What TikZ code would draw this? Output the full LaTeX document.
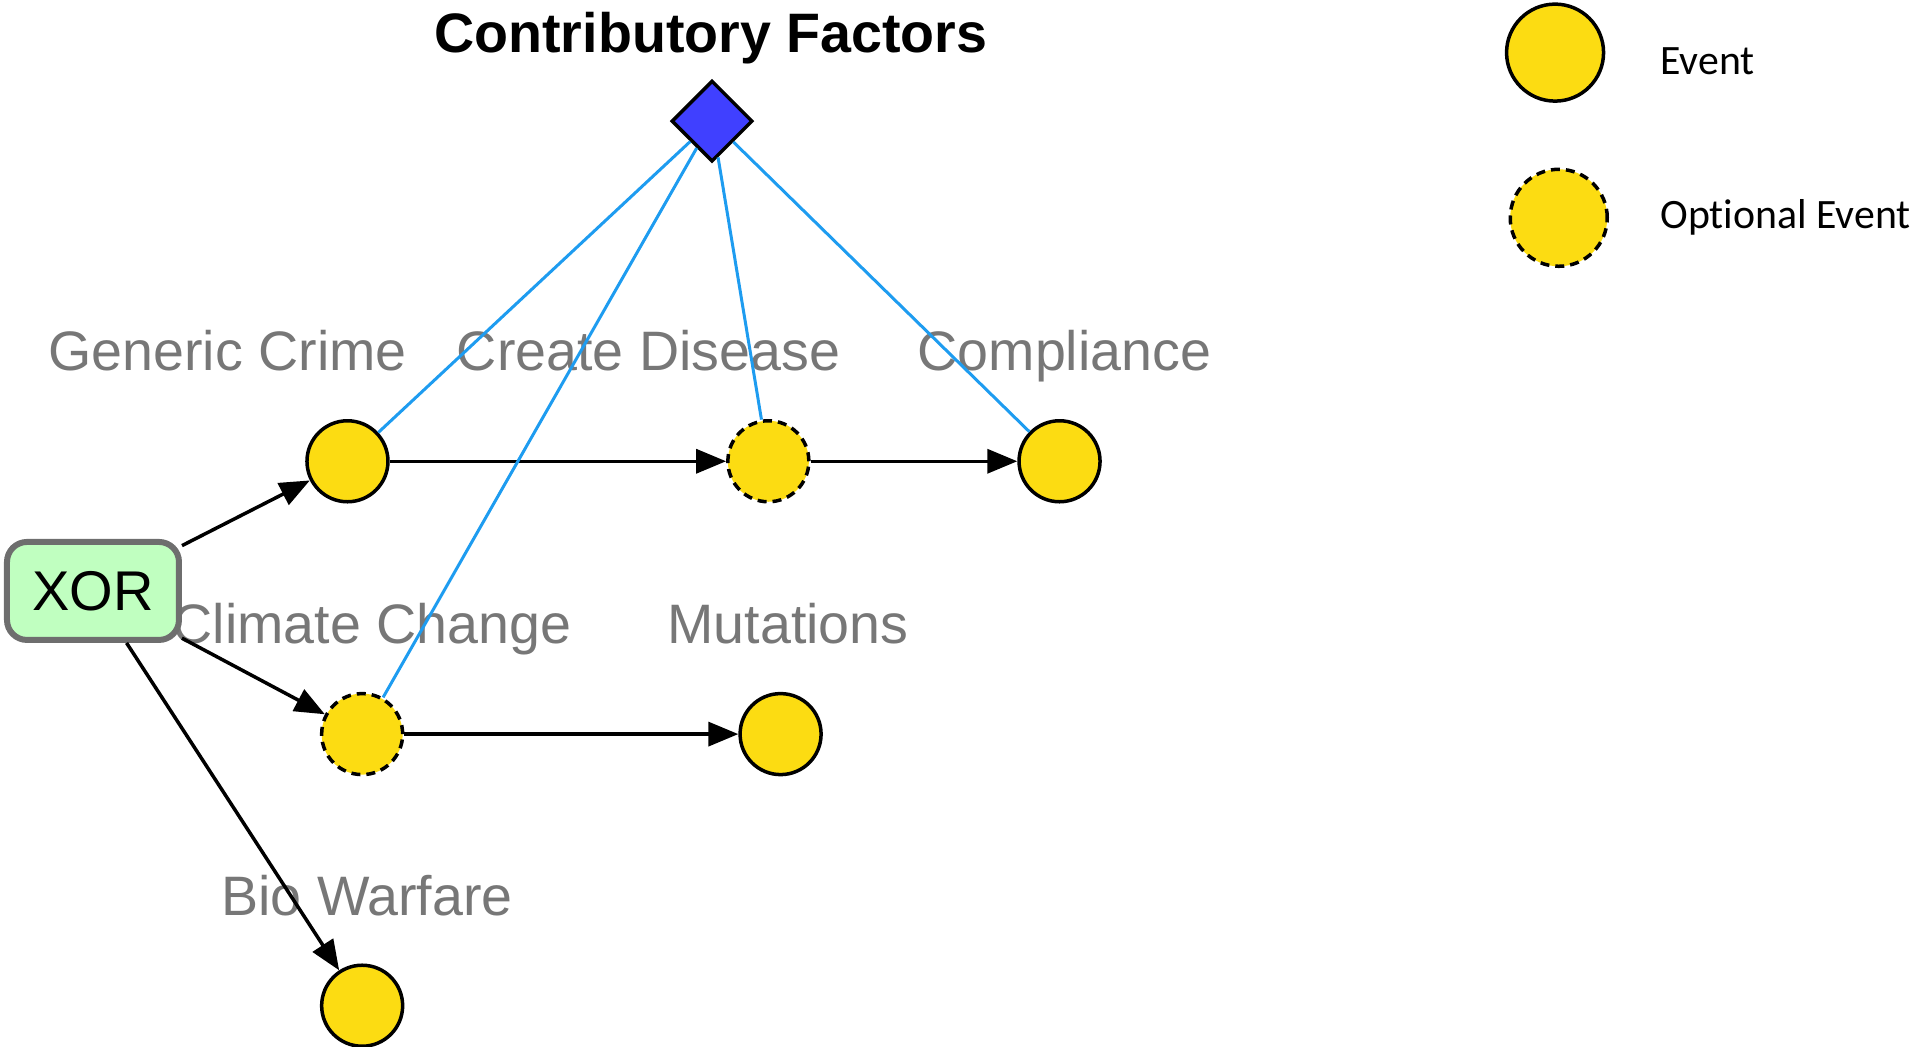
\documentclass[tikz,border=0pt]{standalone}
\usepackage{fontspec}
\setmainfont{Liberation Sans}
\newfontfamily\legendfont[Ligatures=NoCommon]{Carlito}
\usetikzlibrary{shapes.geometric,arrows.meta}
\definecolor{evyellow}{HTML}{FCDC12}
\definecolor{dmblue}{HTML}{4040FF}
\definecolor{lnblue}{HTML}{1E9CF0}
\definecolor{xorgreen}{HTML}{C0FFC0}
\definecolor{xorborder}{HTML}{6E6E6E}
\definecolor{lblgray}{HTML}{777777}
\tikzset{
  event/.style={circle,draw=black,fill=evyellow,line width=3.5pt,minimum size=81pt,inner sep=0pt},
  optevent/.style={event,dash pattern=on 9pt off 6pt},
  legevent/.style={event,minimum size=97pt},
  lbl/.style={anchor=base,text=lblgray,font=\fontsize{55.6}{60}\selectfont,inner sep=0pt},
  legtext/.style={anchor=base west,font=\legendfont\fontsize{41.8}{46}\selectfont,inner sep=0pt},
  flow/.style={draw=black,line width=3.5pt,-{Triangle[length=30pt,width=24pt]}},
  factor/.style={draw=lnblue,line width=3pt},
}
\begin{document}
\begin{tikzpicture}[x=1.2235pt,y=-1.2235pt]
\useasboundingbox (0,0) rectangle (1566,855);
% title and diamond
\node[anchor=base,font=\bfseries\fontsize{55.6}{60}\selectfont,inner sep=0pt] (title) at (581,43) {Contributory Factors};
\node[diamond,draw=black,fill=dmblue,line width=3.5pt,minimum width=81pt,minimum height=81pt,inner sep=0pt,aspect=1] (cf) at (582,99) {};
% labels
\node[lbl] (lgc) at (186,303) {Generic Crime};
\node[lbl] (lcd) at (530,303) {Create Disease};
\node[lbl] (lco) at (870,303) {Compliance};
\node[lbl] (lcc) at (304,526) {Climate Change};
\node[lbl] (lmu) at (644,526) {Mutations};
\node[lbl] (lbw) at (300,748) {Bio Warfare};
% events
\node[event] (gc) at (284,377) {};
\node[optevent] (cd) at (628,377) {};
\node[event] (co) at (866,377) {};
\node[optevent] (cc) at (296,600) {};
\node[event] (mu) at (638,600) {};
\node[event] (bw) at (296,822) {};
% XOR
\node[draw=xorborder,fill=xorgreen,line width=6pt,rounded corners=20pt,minimum width=172pt,minimum height=98pt,inner sep=0pt,font=\fontsize{56}{60}\selectfont] (xor) at (76,483) {XOR};
% flows
\draw[flow] (xor) -- (gc);
\draw[flow] (xor) -- (cc);
\draw[flow] (xor) -- (bw);
\draw[flow] (gc) -- (cd);
\draw[flow] (cd) -- (co);
\draw[flow] (cc) -- (mu);
% factor links
\draw[factor] (cf) -- (gc);
\draw[factor] (cf) -- (cc);
\draw[factor] (cf) -- (cd);
\draw[factor] (cf) -- (co);
% legend
\node[legevent] (le) at (1271,43) {};
\node[legevent,dash pattern=on 9pt off 6pt] (lo) at (1274,178) {};
\node[legtext] (lte) at (1357,61) {Event};
\node[legtext] (lto) at (1357,187) {Optional Event};
\end{tikzpicture}
\end{document}
